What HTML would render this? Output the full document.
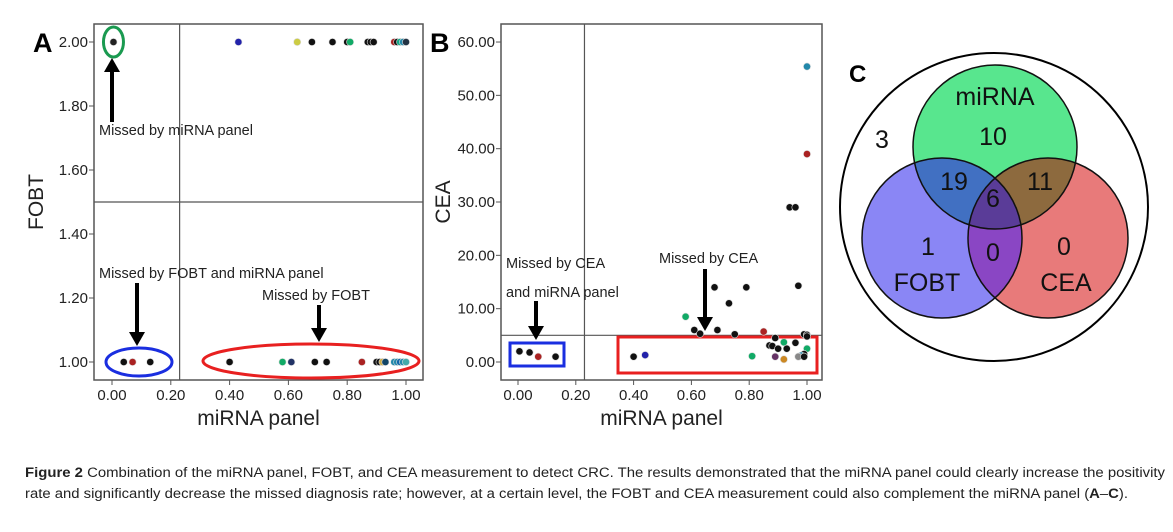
<!DOCTYPE html>
<html><head><meta charset="utf-8"><style>
html,body{margin:0;padding:0;background:#fff}
svg{display:block;font-family:"Liberation Sans",Arial,sans-serif}
</style></head><body>
<svg id="fig" width="1173" height="532" viewBox="0 0 1173 532">
<defs>
<clipPath id="cG"><circle cx="995" cy="147" r="82"/></clipPath>
<clipPath id="cB"><circle cx="942" cy="238" r="80"/></clipPath>
<clipPath id="cR"><circle cx="1048" cy="238" r="80"/></clipPath>
</defs>
<g id="panelA"></g>
<g id="panelB"></g>
<g id="venn">
<text x="849" y="82" font-size="24" font-weight="bold">C</text>
<circle cx="994" cy="207" r="154" fill="none" stroke="#000" stroke-width="2"/>
<circle cx="995" cy="147" r="82" fill="#58e68e"/>
<circle cx="942" cy="238" r="80" fill="#8a86f5"/>
<circle cx="1048" cy="238" r="80" fill="#e87a7a"/>
<g clip-path="url(#cG)"><circle cx="942" cy="238" r="80" fill="#4170c2"/><circle cx="1048" cy="238" r="80" fill="#8d6a3e"/></g>
<g clip-path="url(#cB)"><circle cx="1048" cy="238" r="80" fill="#8a46c4"/></g>
<g clip-path="url(#cG)"><g clip-path="url(#cB)"><circle cx="1048" cy="238" r="80" fill="#5a3c98"/></g></g>
<g fill="none" stroke="#111" stroke-width="1.5">
<circle cx="995" cy="147" r="82"/><circle cx="942" cy="238" r="80"/><circle cx="1048" cy="238" r="80"/>
</g>
<g font-size="25" fill="#111" text-anchor="middle">
<text x="882" y="148">3</text>
<text x="995" y="105">miRNA</text>
<text x="993" y="145">10</text>
<text x="954" y="190">19</text>
<text x="993" y="207">6</text>
<text x="1040" y="190">11</text>
<text x="928" y="255">1</text>
<text x="927" y="291">FOBT</text>
<text x="993" y="261">0</text>
<text x="1064" y="255">0</text>
<text x="1066" y="291">CEA</text>
</g>
</g>
<g font-size="13.5" fill="#222">
<text x="25" y="477" textLength="1140" lengthAdjust="spacingAndGlyphs"><tspan font-weight="bold">Figure 2</tspan> Combination of the miRNA panel, FOBT, and CEA measurement to detect CRC. The results demonstrated that the miRNA panel could clearly increase the positivity</text>
<text x="25" y="498" textLength="1103" lengthAdjust="spacingAndGlyphs">rate and significantly decrease the missed diagnosis rate; however, at a certain level, the FOBT and CEA measurement could also complement the miRNA panel (<tspan font-weight="bold">A</tspan>–<tspan font-weight="bold">C</tspan>).</text>
</g>
</svg>
<script>
// Panel A data
const aTopX = [0.005,0.43,0.63,0.68,0.75,0.80,0.81,0.87,0.88,0.89,0.96,0.97,0.98,0.99,1.0];
const aTopColors = ['#222','#22a','#cc4','#111','#111','#111','#1a6','#111','#111','#111','#a22','#111','#1a8','#28a','#234'];
const aBotX = [0.04,0.07,0.13,0.40,0.58,0.61,0.69,0.73,0.85,0.90,0.91,0.92,0.93,0.96,0.97,0.98,0.99,1.0];
const aBotColors = ['#111','#a22','#111','#111','#1a6','#236','#111','#111','#a22','#111','#111','#ca4','#146','#28a','#28a','#16a','#28a','#4aa'];
const aXTicks = ['0.00','0.20','0.40','0.60','0.80','1.00'];
const aYTicks = ['1.00','1.20','1.40','1.60','1.80','2.00'];
// Panel B data
const bX = [0.005,0.04,0.07,0.13,0.40,0.44,0.58,0.61,0.63,0.68,0.69,0.73,0.75,0.79,0.85,0.81,0.87,0.88,0.89,0.90,0.92,0.93,0.89,0.92,0.96,0.97,0.99,1.0,1.0,1.0,0.99,0.98,0.97,0.99,0.94,0.96,1.0,1.0];
const bY = [2,1.8,1,1,1,1.3,8.5,6,5.3,14,6,11,5.2,14,5.7,1.1,3.1,3,4.5,2.5,3.7,2.5,1,0.5,3.6,14.3,5.2,5.1,4.8,2.5,1.5,1.2,1,1,29,29,39,55.4];
const bColors = ['#111','#111','#a22','#111','#111','#22a','#1a6','#111','#111','#111','#111','#111','#111','#111','#a22','#1a6','#111','#111','#111','#111','#1a6','#111','#636','#c82','#111','#111','#111','#111','#111','#1a6','#111','#28a','#888','#111','#111','#111','#a22','#28a'];
const bXTicks = ['0.00','0.20','0.40','0.60','0.80','1.00'];
const bYTicks = ['0.00','10.00','20.00','30.00','40.00','50.00','60.00'];

const NS='http://www.w3.org/2000/svg';
function mk(parent,tag,attrs,text){const e=document.createElementNS(NS,tag);for(const k in attrs)e.setAttribute(k,attrs[k]);if(text!==undefined)e.textContent=text;parent.appendChild(e);return e;}

function axes(g,box,xs,ys,xt,yt,xlab,ylab,cutX,cutY,letter,letterX){
  mk(g,'rect',{x:box.x0,y:box.y0,width:box.x1-box.x0,height:box.y1-box.y0,fill:'none',stroke:'#555','stroke-width':1.5});
  xt.forEach(t=>{const v=parseFloat(t),x=xs(v);
    mk(g,'line',{x1:x,x2:x,y1:box.y1,y2:box.y1+5,stroke:'#555'});
    const e=mk(g,'text',{x:x,y:box.y1+20,'font-size':15,'text-anchor':'middle',fill:'#222'},t);
    
    });
  yt.forEach(t=>{const v=parseFloat(t),y=ys(v);
    mk(g,'line',{x1:box.x0-5,x2:box.x0,y1:y,y2:y,stroke:'#555'});
    const e=mk(g,'text',{x:box.x0-6,y:y+5,'font-size':15,'text-anchor':'end',fill:'#222'},t);
    
    });
  mk(g,'line',{x1:xs(cutX),x2:xs(cutX),y1:box.y0,y2:box.y1,stroke:'#555','stroke-width':1.2});
  mk(g,'line',{x1:box.x0,x2:box.x1,y1:ys(cutY),y2:ys(cutY),stroke:'#555','stroke-width':1.2});
  const xl=mk(g,'text',{x:(box.x0+box.x1)/2,y:box.y1+45,'font-size':21,'text-anchor':'middle',fill:'#222'},xlab);
  
  
  const cy=(box.y0+box.y1)/2, cx=box.x0-51;
  const yl=mk(g,'text',{x:cx,y:cy,'font-size':21,'text-anchor':'middle',fill:'#222',transform:`rotate(-90 ${cx} ${cy})`},ylab);
  
  
  const L=mk(g,'text',{x:letterX,y:box.y0+28,'font-size':27,'font-weight':'bold',fill:'#000'},letter);
  
  
}
function dot(g,x,y,c){const e=mk(g,'circle',{cx:x,cy:y,r:3.6,fill:c,stroke:'#ddd','stroke-width':0.6});
  
  }
function arrow(g,x,y1,y2){const d=y2>y1?1:-1;
  mk(g,'line',{x1:x,x2:x,y1:y1,y2:y2-12*d,stroke:'#000','stroke-width':4});
  mk(g,'path',{d:`M${x-8},${y2-14*d} L${x+8},${y2-14*d} L${x},${y2} z`,fill:'#000'});}
function label(g,x,y,t,name){const e=mk(g,'text',{x:x,y:y,'font-size':14.5,fill:'#222'},t);
  
  }

// Panel A
(function(){
  const g=document.getElementById('panelA');
  const box={x0:94,x1:423,y0:24,y1:380};
  const xs=v=>112+v*294, ys=v=>362-(v-1)*320;
  axes(g,box,xs,ys,aXTicks,aYTicks,'miRNA panel','FOBT',0.23,1.5,'A',33);
  mk(g,'ellipse',{cx:xs(0.005),cy:ys(2),rx:10,ry:15,fill:'none',stroke:'#1a9a50','stroke-width':3});
  mk(g,'ellipse',{cx:139,cy:ys(1),rx:33,ry:14,fill:'none',stroke:'#1a2ee0','stroke-width':3});
  mk(g,'ellipse',{cx:311,cy:ys(1)-1,rx:108,ry:17,fill:'none',stroke:'#e82020','stroke-width':3});
  aTopX.forEach((v,i)=>dot(g,xs(v),ys(2),aTopColors[i]));
  aBotX.forEach((v,i)=>dot(g,xs(v),ys(1),aBotColors[i]));
  arrow(g,112,122,58);
  label(g,99,135,'Missed by miRNA panel','annotation-missed-mirna');
  label(g,99,278,'Missed by FOBT and miRNA panel','annotation-missed-fobt-mirna');
  arrow(g,137,283,346);
  label(g,262,300,'Missed by FOBT','annotation-missed-fobt');
  arrow(g,319,305,342);
})();

// Panel B
(function(){
  const g=document.getElementById('panelB');
  const box={x0:501,x1:822,y0:24,y1:380};
  const xs=v=>518+v*289, ys=v=>362-v*5.333;
  axes(g,box,xs,ys,bXTicks,bYTicks,'miRNA panel','CEA',0.23,5,'B',430);
  mk(g,'rect',{x:510,y:343,width:54,height:23,fill:'none',stroke:'#1a2ee0','stroke-width':3});
  mk(g,'rect',{x:618,y:337,width:199,height:36,fill:'none',stroke:'#e82020','stroke-width':3});
  bX.forEach((v,i)=>dot(g,xs(v),ys(bY[i]),bColors[i]));
  label(g,506,268,'Missed by CEA','annotation-missed-cea-mirna-1');
  label(g,506,297,'and miRNA panel','annotation-missed-cea-mirna-2');
  arrow(g,536,301,340);
  label(g,659,263,'Missed by CEA','annotation-missed-cea');
  arrow(g,705,269,331);
})();
</script>
</body></html>
